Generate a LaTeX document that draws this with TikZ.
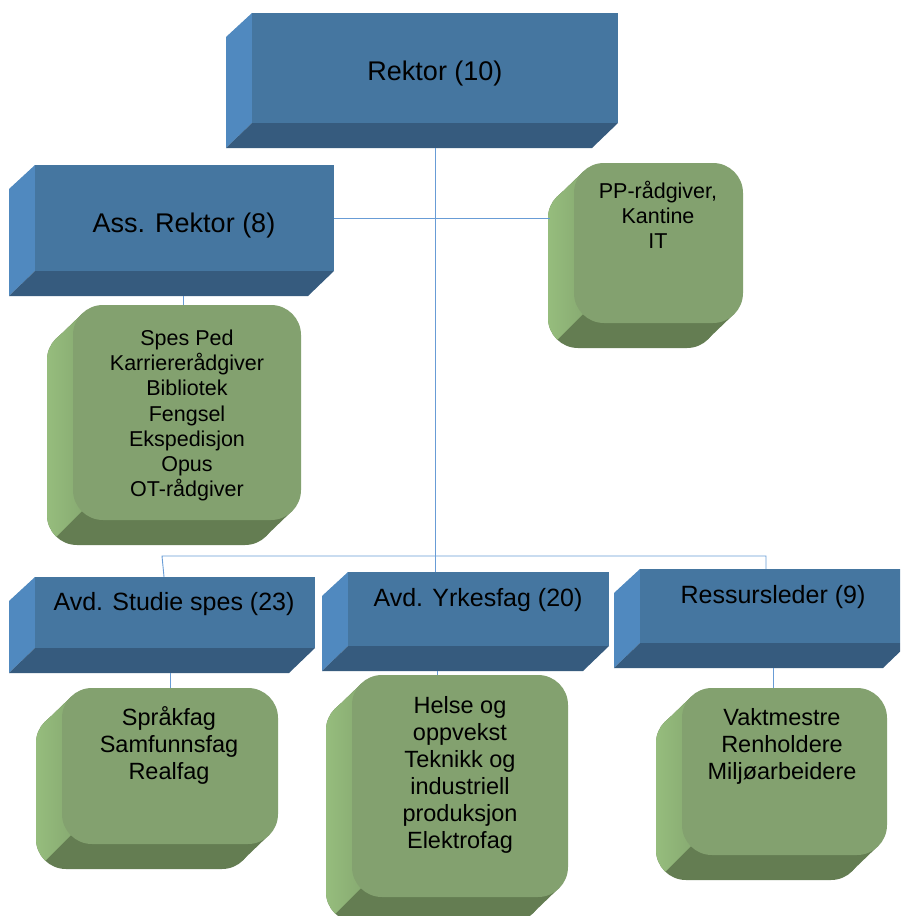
\documentclass[tikz,border=0pt]{standalone}
\usepackage{fontspec}
\setmainfont{Liberation Sans}
\usetikzlibrary{calc}
\definecolor{bfront}{RGB}{69,118,160}
\definecolor{bleftc}{RGB}{80,137,191}
\definecolor{bbotc}{RGB}{54,91,126}
\definecolor{gfront}{RGB}{131,161,111}
\definecolor{glight}{RGB}{150,189,125}
\definecolor{gmid}{RGB}{136,171,114}
\definecolor{gbotc}{RGB}{100,125,82}
\definecolor{connc}{RGB}{104,156,214}
\tikzset{
  bfacestyle/.style={rectangle, fill=bfront, draw=none, inner sep=0pt},
  gfacestyle/.style={rectangle, rounded corners=30pt, fill=gfront, draw=none, inner sep=0pt},
  btitle/.style={font=\fontsize{27}{32}\selectfont, anchor=base, inner sep=0pt},
  blabel/.style={font=\fontsize{25}{30}\selectfont, anchor=base, inner sep=0pt},
  gsmall/.style={font=\fontsize{21.5}{25.1}\selectfont, align=center, anchor=north, inner sep=0pt},
  glarge/.style={font=\fontsize{23.5}{27}\selectfont, align=center, anchor=north, inner sep=0pt},
  connector/.style={draw=connc, line width=0.9pt},
}
% blue 3D box: name, x1, y1, x2, y2 of the front face (pixels, y down)
\newcommand\bbox[5]{%
  \fill[bleftc] (#2,#3) -- ({#2-26},{#3+24}) -- ({#2-26},{#5+25}) -- (#2,#5) -- cycle;
  \fill[bbotc] (#2,#5) -- (#4,#5) -- ({#4-26},{#5+25}) -- ({#2-26},{#5+25}) -- cycle;
  \node[bfacestyle, minimum width={(#4-#2)*1pt}, minimum height={(#5-#3)*1pt}] (#1) at ({(#2+#4)/2},{(#3+#5)/2}) {};
  \coordinate (#1-b) at ([yshift=-25pt]#1.south);
}
% green 3D rounded box: name, x1, y1, x2, y2 of the front face
\newcommand\gbox[5]{%
  \fill[gbotc, rounded corners=30pt] ({#2-26},{#3+25}) rectangle ({#4-26},{#5+25});
  \fill[gbotc] ({#2+9},{#3+9}) -- ({#2-17},{#3+34}) -- ({#4-35},{#5+16}) -- ({#4-9},{#5-9}) -- cycle;
  \begin{scope}
    \clip ({#2+9},{#3-60}) -- ({#2+9},{#5-9}) -- ({#2-91},{#5+91}) -- ({#2-150},{#5+91}) -- ({#2-150},{#3-60}) -- cycle;
    \begin{scope}
      \clip[rounded corners=30pt] ({#2-26},{#3+25}) rectangle ({#4-26},{#5+25});
      \shade[left color=glight, right color=gmid] ({#2-26},{#3}) rectangle ({#2+9},{#5+30});
    \end{scope}
    \begin{scope}
      \clip ({#2+9},{#3+9}) -- ({#2-17},{#3+34}) -- ({#4-35},{#5+16}) -- ({#4-9},{#5-9}) -- cycle;
      \shade[left color=glight, right color=gmid] ({#2-26},{#3}) rectangle ({#2+9},{#5+30});
    \end{scope}
  \end{scope}
  \node[gfacestyle, minimum width={(#4-#2)*1pt}, minimum height={(#5-#3)*1pt}] (#1) at ({(#2+#4)/2},{(#3+#5)/2}) {};
  \coordinate (#1-l) at ({#2-24},{(#3+#5)/2});
}
\begin{document}
\begin{tikzpicture}[x=1pt, y=-1pt]
\clip (0,0) rectangle (900,916);
\fill[white] (0,0) rectangle (900,916);

% blue boxes
\bbox{rektor}{252}{13}{618}{123}
\bbox{ass}{35}{165}{334}{271}
\bbox{studie}{35}{577}{315}{648}
\bbox{yrkes}{348}{572}{609}{646}
\bbox{ressurs}{640}{569}{909}{643}

% green boxes
\gbox{gass}{73}{305}{301}{520}
\gbox{gpp}{574}{163}{743}{323}
\gbox{gstudie}{62}{688}{278}{844}
\gbox{gyrkes}{352}{675}{568}{897}
\gbox{gressurs}{682}{688}{887}{855}

% titles
\node[btitle] (t-rektor) at (435,80) {Rektor (10)};
\node[btitle] (t-ass) at (184,232) {Ass. Rektor (8)};
\node[blabel] (t-studie) at (174,610) {Avd. Studie spes (23)};
\node[blabel] (t-yrkes) at (478,606) {Avd. Yrkesfag (20)};
\node[blabel] (t-ressurs) at (773,603) {Ressursleder (9)};

% green texts
\node[gsmall] (x-ass) at (187,330) {Spes Ped\\Karriererådgiver\\Bibliotek\\ Fengsel\\Ekspedisjon\\Opus\\OT-rådgiver};
\node[gsmall] (x-pp) at (658,181) {PP-rådgiver,\\Kantine\\IT};
\node[glarge] (x-studie) at (169,706) {Språkfag\\Samfunnsfag\\Realfag};
\node[glarge] (x-yrkes) at (460,696) {Helse og\\oppvekst\\Teknikk og\\industriell\\produksjon\\Elektrofag};
\node[glarge] (x-ressurs) at (782,708) {Vaktmestre\\Renholdere\\Miljøarbeidere};

% connectors
\coordinate (bus-l) at (162,556);
\coordinate (bus-r) at (766,556);
\draw[connector] (rektor-b) -- (rektor-b |- yrkes.north);
\draw[connector] (ass.east) -- (ass.east -| gpp-l);
\draw[connector] ([xshift=-1.5pt]ass-b) -- ([xshift=-1.5pt]ass-b |- gass.north);
\draw[connector] ([xshift=2pt]studie.north -| bus-l) -- (bus-l) -- (bus-r) -- (bus-r |- ressurs.north);
\draw[connector] ([xshift=-5pt]studie-b) -- ([xshift=-5pt]studie-b |- gstudie.north);
\draw[connector] ([xshift=2pt]rektor-b |- yrkes-b) -- ([xshift=2pt]rektor-b |- gyrkes.north);
\draw[connector] ([xshift=-1.5pt]ressurs-b) -- ([xshift=-1.5pt]ressurs-b |- gressurs.north);
\end{tikzpicture}
\end{document}
